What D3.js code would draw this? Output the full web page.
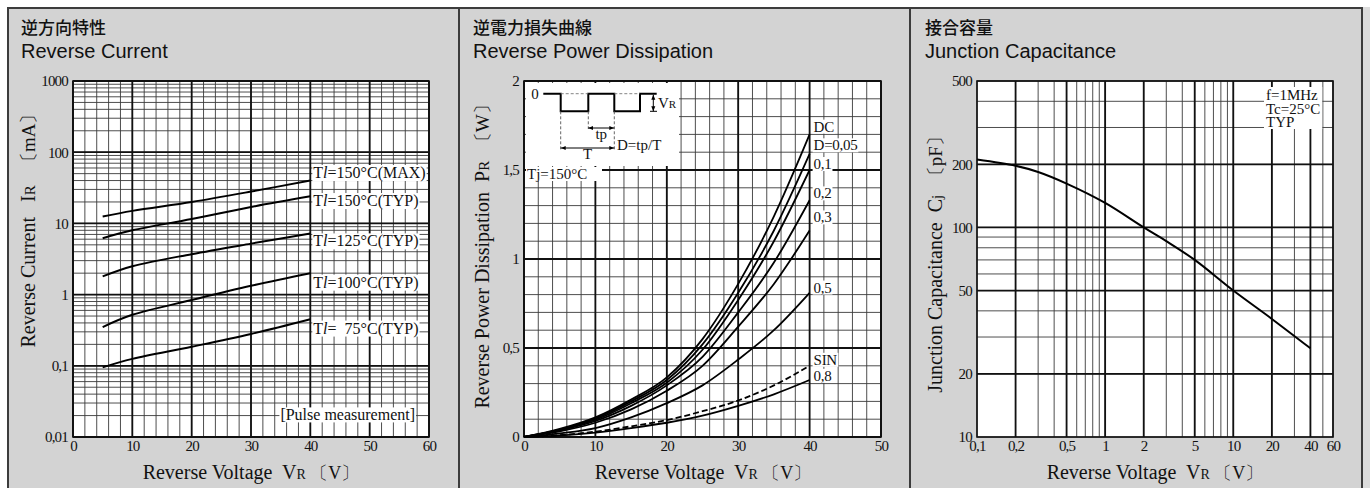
<!DOCTYPE html>
<html>
<head>
<meta charset="utf-8">
<script src="https://cdn.jsdelivr.net/npm/d3@7"></script>
<style>
body { margin: 0; background: #fff; }
text { font-family: "Liberation Serif", "Times New Roman", serif; white-space: pre; fill: #111; }
.hd { font-family: "Liberation Sans", Arial, sans-serif; }
.jp { font-family: "Noto Sans CJK JP", sans-serif; }
.minor { stroke: #3a3a3a; stroke-width: 0.9; }
.major { stroke: #111; stroke-width: 1.8; }
</style>
</head>
<body>
<script>
var width = 1370, height = 488;

// --- Reverse Current (left) ---
var irVolt = [5, 10, 20, 30, 40];
var ir150max = [12.5, 15, 20, 28, 40];
var ir150typ = [6.2, 8, 11.5, 17, 24];
var ir125typ = [1.8, 2.5, 3.7, 5.2, 7.2];
var ir100typ = [0.35, 0.52, 0.84, 1.33, 2.0];
var ir75typ = [0.095, 0.125, 0.185, 0.28, 0.45];
var irNames = ["=150°C(MAX)", "=150°C(TYP)", "=125°C(TYP)", "=100°C(TYP)", "=  75°C(TYP)"];
var irLabelAt = [52, 21, 5.7, 1.5, 0.34];
var irTicksX = [0, 10, 20, 30, 40, 50, 60];
var irTicksY = [0.01, 0.1, 1, 10, 100, 1000];
var irTickText = ["0,01", "0,1", "1", "10", "100", "1000"];

// --- Reverse Power Dissipation (middle) ---
var prVolt = [0, 5, 10, 15, 20, 25, 30, 35, 40];
var prDC   = [0, 0.045, 0.11, 0.21, 0.335, 0.55, 0.86, 1.24, 1.70];
var prD005 = [0, 0.042, 0.103, 0.20, 0.32, 0.52, 0.81, 1.16, 1.59];
var prD01  = [0, 0.04, 0.097, 0.19, 0.305, 0.49, 0.77, 1.10, 1.50];
var prD02  = [0, 0.037, 0.09, 0.175, 0.29, 0.45, 0.70, 0.98, 1.33];
var prD03  = [0, 0.032, 0.08, 0.155, 0.26, 0.40, 0.62, 0.86, 1.16];
var prD05  = [0, 0.02, 0.05, 0.11, 0.19, 0.29, 0.435, 0.60, 0.81];
var prSIN  = [0, 0.01, 0.03, 0.06, 0.095, 0.145, 0.205, 0.29, 0.40];
var prD08  = [0, 0.009, 0.025, 0.05, 0.08, 0.12, 0.175, 0.24, 0.32];
var prNames = ["DC", "D=0,05", "0,1", "0,2", "0,3", "0,5", "SIN", "0,8"];
var prLabelAt = [1.745, 1.64, 1.535, 1.37, 1.235, 0.841, 0.435, 0.345];
var prTicksX = [0, 10, 20, 30, 40, 50];
var prTicksY = [0, 0.5, 1, 1.5, 2];
var prTickText = ["0", "0,5", "1", "1,5", "2"];

// --- Junction Capacitance (right) ---
var cjVolt = [0.1, 0.2, 0.3, 0.5, 1, 2, 3, 5, 10, 20, 40];
var cjPf = [211, 197, 184, 162, 131, 100, 86, 70, 50, 36.6, 26.5];
var cjTicksX = [0.1, 0.2, 0.5, 1, 2, 5, 10, 20, 40, 60];
var cjTickTextX = ["0,1", "0,2", "0,5", "1", "2", "5", "10", "20", "40", "60"];
var cjTicksY = [10, 20, 50, 100, 200, 500];
var cjNote = ["f=1MHz", "Tc=25°C", "TYP"];

var svg = d3.select("body").append("svg")
    .attr("width", width)
    .attr("height", height);

// panel background + frame
svg.append("rect")
    .attr("x", 1363).attr("y", 7).attr("width", 7).attr("height", height)
    .style("fill", "#dcdcdc");
svg.append("rect")
    .attr("x", 8).attr("y", 8).attr("width", 1354).attr("height", height)
    .style("fill", "#d3d3d3").style("stroke", "#3c3c3c").style("stroke-width", 2);
[459, 910].forEach(function(x) {
    svg.append("line").attr("x1", x).attr("x2", x).attr("y1", 8).attr("y2", height)
        .style("stroke", "#3c3c3c").style("stroke-width", 2);
});

function header(x, jp, en) {
    svg.append("text").attr("class", "jp").attr("x", x).attr("y", 34)
        .style("font-size", "17px").style("font-weight", "500").text(jp);
    svg.append("text").attr("class", "hd").attr("x", x).attr("y", 58)
        .style("font-size", "20px").text(en);
}
header(21, "逆方向特性", "Reverse Current");
header(473, "逆電力損失曲線", "Reverse Power Dissipation");
header(925, "接合容量", "Junction Capacitance");

function plotArea(xs, ys) {
    var r = xs.range(), q = ys.range();
    svg.append("rect")
        .attr("x", r[0]).attr("y", q[1])
        .attr("width", r[1] - r[0]).attr("height", q[0] - q[1])
        .style("fill", "#fff");
}

function grid(xs, ys, xv, yv, cls) {
    var g = svg.append("g");
    g.selectAll(null).data(xv).enter().append("line")
        .attr("class", cls)
        .attr("x1", function(d) { return xs(d); })
        .attr("x2", function(d) { return xs(d); })
        .attr("y1", ys.range()[0]).attr("y2", ys.range()[1]);
    g.selectAll(null).data(yv).enter().append("line")
        .attr("class", cls)
        .attr("y1", function(d) { return ys(d); })
        .attr("y2", function(d) { return ys(d); })
        .attr("x1", xs.range()[0]).attr("x2", xs.range()[1]);
}

function frame(xs, ys) {
    var r = xs.range(), q = ys.range();
    svg.append("rect")
        .attr("x", r[0]).attr("y", q[1])
        .attr("width", r[1] - r[0]).attr("height", q[0] - q[1])
        .style("fill", "none").style("stroke", "#111").style("stroke-width", 1.6);
}

function axes(xs, ys, xt, xl, yt, yl) {
    var ax = svg.append("g")
        .attr("transform", "translate(0," + ys.range()[0] + ")")
        .call(d3.axisBottom(xs).tickValues(xt)
            .tickFormat(function(d, i) { return xl[i]; })
            .tickSize(0).tickPadding(3));
    var ay = svg.append("g")
        .attr("transform", "translate(" + xs.range()[0] + ",0)")
        .call(d3.axisLeft(ys).tickValues(yt)
            .tickFormat(function(d, i) { return yl[i]; })
            .tickSize(0).tickPadding(5));
    [ax, ay].forEach(function(g) {
        g.select(".domain").remove();
        g.attr("font-size", null).attr("font-family", null);
        g.selectAll("text")
            .style("font-family", "'Liberation Serif', serif")
            .style("font-size", "15px").style("letter-spacing", "-0.8px")
            .style("fill", "#111");
    });
}

function xTitle(cx) {
    var t = svg.append("text").attr("x", cx).attr("y", 479)
        .attr("text-anchor", "middle").style("font-size", "20px");
    t.append("tspan").text("Reverse Voltage  V");
    t.append("tspan").text("R").style("font-size", "14px");
    t.append("tspan").text(" 〔V〕").style("font-size", "18px");
}

function yTitle(x, y, main, sub, unit) {
    var t = svg.append("text")
        .attr("transform", "translate(" + x + "," + y + ") rotate(-90)")
        .attr("text-anchor", "middle").style("font-size", "20px");
    t.append("tspan").text(main);
    t.append("tspan").text(sub).style("font-size", "15px");
    t.append("tspan").text("  " + unit).style("font-size", "19px");
}

function whiteBehind(t, pad) {
    var b = t.node().getBBox();
    d3.select(t.node().parentNode).insert("rect", function() { return t.node(); })
        .attr("x", b.x - pad).attr("y", b.y + 1)
        .attr("width", b.width + 2 * pad).attr("height", b.height - 2)
        .style("fill", "#fff");
}

function logMinor(lo, hi) {
    var out = [];
    for (var e = lo; e < hi; e *= 10)
        for (var k = 1; k < 10; k++) if (e * k >= lo && e * k <= hi) out.push(e * k);
    out.push(hi);
    return out;
}

// ================= panel 1 =================
var x1 = d3.scaleLinear().domain([0, 60]).range([73, 429]);
var y1 = d3.scaleLog().domain([0.01, 1000]).range([437, 81]);
plotArea(x1, y1);
grid(x1, y1, d3.range(0, 61, 2), logMinor(0.01, 1000), "minor");
grid(x1, y1, irTicksX, irTicksY, "major");
frame(x1, y1);

var irSeries = [ir150max, ir150typ, ir125typ, ir100typ, ir75typ];
var line1 = d3.line()
    .x(function(d, i) { return x1(irVolt[i]); })
    .y(function(d) { return y1(d); })
    .curve(d3.curveCatmullRom);
svg.append("g").selectAll("path").data(irSeries).enter().append("path")
    .attr("d", line1)
    .style("fill", "none").style("stroke", "#000").style("stroke-width", 2);

var g1 = svg.append("g");
irNames.forEach(function(n, i) {
    var t = g1.append("text")
        .attr("x", x1(40) + 3).attr("y", y1(irLabelAt[i]))
        .attr("dy", "0.35em").style("font-size", "16px");
    t.append("tspan").text("T");
    t.append("tspan").text("l").style("font-style", "italic");
    t.append("tspan").text(n);
    whiteBehind(t, 1);
});
var pm = g1.append("text")
    .attr("x", x1(46.3)).attr("y", y1(0.0205)).attr("dy", "0.35em")
    .attr("text-anchor", "middle").style("font-size", "16px")
    .text("[Pulse measurement]");
whiteBehind(pm, 1);

axes(x1, y1, irTicksX, irTicksX.map(String), irTicksY, irTickText);
xTitle(251);
yTitle(35, 226, "Reverse Current   I", "R", " 〔mA〕");

// ================= panel 2 =================
var x2 = d3.scaleLinear().domain([0, 50]).range([524, 881]);
var y2 = d3.scaleLinear().domain([0, 2]).range([437, 81]);
plotArea(x2, y2);
grid(x2, y2, d3.range(0, 51, 2), d3.range(0, 2.01, 0.1), "minor");
grid(x2, y2, prTicksX, prTicksY, "major");

// inset (pulse diagram) sits on a white patch
var ox = x2(0), oy = y2(2);
svg.append("rect").attr("x", ox + 2).attr("y", oy + 2).attr("width", 153).attr("height", 83)
    .style("fill", "#fff");
svg.append("rect").attr("x", ox + 2).attr("y", oy + 86).attr("width", 76).attr("height", 14)
    .style("fill", "#fff");
frame(x2, y2);

var prSeries = [prDC, prD005, prD01, prD02, prD03, prD05, prSIN, prD08];
var line2 = d3.line()
    .x(function(d, i) { return x2(prVolt[i]); })
    .y(function(d) { return y2(d); })
    .curve(d3.curveMonotoneX);
svg.append("g").selectAll("path").data(prSeries).enter().append("path")
    .attr("d", line2)
    .style("fill", "none").style("stroke", "#000").style("stroke-width", 1.8)
    .style("stroke-dasharray", function(d, i) { return prNames[i] == "SIN" ? "6,3" : null; });

var g2 = svg.append("g");
prNames.forEach(function(n, i) {
    var t = g2.append("text")
        .attr("x", x2(40) + 4).attr("y", y2(prLabelAt[i]))
        .attr("dy", "0.35em").style("font-size", "15px").style("letter-spacing", "-0.3px")
        .text(n);
    whiteBehind(t, 1);
});

// pulse waveform
var hi = oy + 12.7, lo = oy + 30.3;
var wx = [19.3, 36.7, 64.3, 90.3, 116, 132.7].map(function(d) { return ox + d; });
svg.append("path")
    .attr("d", "M" + wx[0] + "," + hi + "H" + wx[1] + "V" + lo + "H" + wx[2] + "V" + hi +
        "H" + wx[3] + "V" + lo + "H" + wx[4] + "V" + hi + "H" + wx[5])
    .style("fill", "none").style("stroke", "#000").style("stroke-width", 2);
svg.append("path")
    .attr("d", "M" + wx[1] + "," + hi + "H" + wx[2] + "M" + wx[3] + "," + hi + "H" + wx[4])
    .style("stroke", "#777").style("stroke-width", 0.9).style("stroke-dasharray", "3,2");
svg.append("path")
    .attr("d", "M" + wx[1] + "," + lo + "V" + (oy + 69) +
        "M" + wx[2] + "," + lo + "V" + (oy + 48) +
        "M" + wx[3] + "," + lo + "V" + (oy + 69))
    .style("stroke", "#555").style("stroke-width", 0.9).style("stroke-dasharray", "3,2");

svg.append("defs").append("marker")
    .attr("id", "ah").attr("viewBox", "0 0 10 10").attr("refX", 10).attr("refY", 5)
    .attr("markerWidth", 5).attr("markerHeight", 5).attr("orient", "auto-start-reverse")
    .append("path").attr("d", "M0,1L10,5L0,9Z").style("fill", "#000");

function dim(xa, ya, xb, yb) {
    svg.append("line").attr("x1", xa).attr("y1", ya).attr("x2", xb).attr("y2", yb)
        .style("stroke", "#000").style("stroke-width", 1)
        .attr("marker-start", "url(#ah)").attr("marker-end", "url(#ah)");
}
dim(ox + 129.3, hi + 1, ox + 129.3, lo);
dim(wx[2], oy + 47, wx[3], oy + 47);
dim(wx[1], oy + 67, wx[3], oy + 67);
svg.append("line").attr("x1", ox + 126).attr("x2", ox + 133).attr("y1", lo).attr("y2", lo)
    .style("stroke", "#000").style("stroke-width", 1);

svg.append("text").attr("x", ox + 11).attr("y", hi + 5).attr("text-anchor", "middle")
    .style("font-size", "15px").text("0");
var vr = svg.append("text").attr("x", ox + 134).attr("y", oy + 27).style("font-size", "15px");
vr.append("tspan").text("V");
vr.append("tspan").text("R").style("font-size", "11px");
svg.append("text").attr("x", (wx[2] + wx[3]) / 2).attr("y", oy + 58).attr("text-anchor", "middle")
    .style("font-size", "15px").text("tp");
svg.append("text").attr("x", (wx[1] + wx[3]) / 2).attr("y", oy + 78).attr("text-anchor", "middle")
    .style("font-size", "15px").text("T");
svg.append("text").attr("x", ox + 93).attr("y", oy + 69)
    .style("font-size", "15px").text("D=tp/T");
svg.append("text").attr("x", ox + 3).attr("y", oy + 98)
    .style("font-size", "15px").text("Tj=150°C");

axes(x2, y2, prTicksX, prTicksX.map(String), prTicksY, prTickText);
xTitle(703);
yTitle(489, 252, "Reverse Power Dissipation  P", "R", "〔W〕");

// ================= panel 3 =================
var x3 = d3.scaleLog().domain([0.1, 60]).range([977, 1333]);
var y3 = d3.scaleLog().domain([10, 500]).range([437, 81]);
plotArea(x3, y3);
grid(x3, y3, logMinor(0.1, 60), logMinor(10, 500), "minor");
grid(x3, y3, cjTicksX.slice(1, -1), cjTicksY.slice(1, -1), "major");
frame(x3, y3);

var line3 = d3.line()
    .x(function(d, i) { return x3(cjVolt[i]); })
    .y(function(d) { return y3(d); })
    .curve(d3.curveCatmullRom);
svg.append("path").datum(cjPf)
    .attr("d", line3)
    .style("fill", "none").style("stroke", "#000").style("stroke-width", 2);

var g3 = svg.append("g");
var nb = g3.append("rect").style("fill", "#fff");
var note = g3.append("text").attr("x", 1266).attr("y", 100).style("font-size", "15px");
cjNote.forEach(function(s, i) {
    note.append("tspan").attr("x", 1266).attr("dy", i == 0 ? 0 : 13.5).text(s);
});
var b = note.node().getBBox();
nb.attr("x", b.x - 2).attr("y", b.y).attr("width", b.width + 4).attr("height", b.height - 1);

axes(x3, y3, cjTicksX, cjTickTextX, cjTicksY, cjTicksY.map(String));
xTitle(1155);
yTitle(942, 260, "Junction Capacitance  C", "j", "〔pF〕");
</script>
</body>
</html>
